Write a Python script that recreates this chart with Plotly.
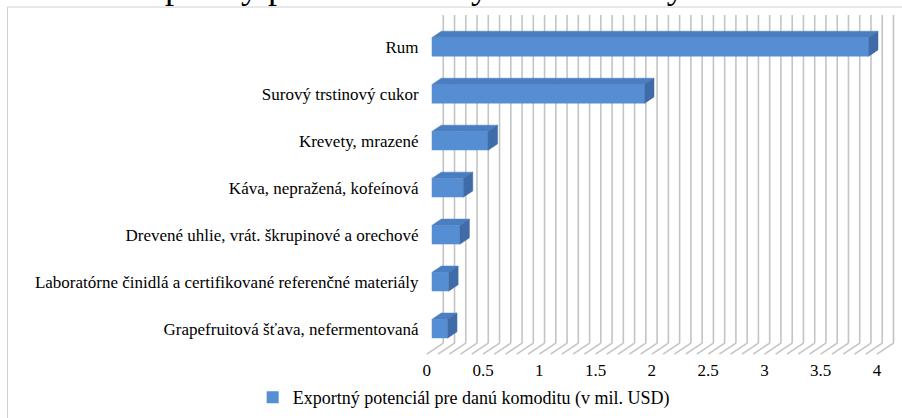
import plotly.graph_objects as go

categories = [
    "Grapefruitová šťava, nefermentovaná",
    "Laboratórne činidlá a certifikované referenčné materiály",
    "Drevené uhlie, vrát. škrupinové a orechové",
    "Káva, nepražená, kofeínová",
    "Krevety, mrazené",
    "Surový trstinový cukor",
    "Rum",
]
values = [0.14, 0.15, 0.25, 0.28, 0.50, 1.89, 3.88]
tick_vals = [0, 0.5, 1, 1.5, 2, 2.5, 3, 3.5, 4]
tick_text = ["0", "0.5", "1", "1.5", "2", "2.5", "3", "3.5", "4"]
grid_vals = [round(i * 0.1, 1) for i in range(41)]
series_name = "Exportný potenciál pre danú komoditu (v mil. USD)"
title_text = "Graf 3: Exportný potenciál Kuby na slovenský trh v roku 2018 (v mil. USD)"

FONT = "Liberation Serif, Times New Roman, serif"
FRONT = "#568ed3"
TOP = "#4a7ec2"
SIDE = "#3f6ca8"
GRID = "#c4c4c4"

# pixel layout (screen coordinates, body margin removed)
W, H = 902, 418
px_per_x = 112.5
px_per_y = 47.5
x_range = [-0.06, 4.16]
y_range = [-0.621, 6.789]
ml = 432 + x_range[0] * px_per_x
pw = (x_range[1] - x_range[0]) * px_per_x
mr = W - (ml + pw)
mt = 10
ph = (y_range[1] - y_range[0]) * px_per_y
mb = H - (mt + ph)


def px_to_paper_x(px):
    return (px - ml) / pw


def px_to_paper_y(py):
    return (H - mb - py) / ph


# 3D offsets in data units
bar_h = 0.4
bdx = 9.5 / px_per_x
bdy = 6.5 / px_per_y
wall_dx = 11.5 / px_per_x
floor_dx = -5 / px_per_x
wall_top = y_range[1] - 5 / px_per_y
wall_bot = y_range[0] + 15 / px_per_y
floor_front = y_range[0] + 4 / px_per_y

ypos = list(range(len(categories)))

shapes = []
for v in grid_vals:
    shapes.append(dict(type="line", xref="x", yref="y", x0=v + wall_dx, x1=v + wall_dx,
                       y0=wall_bot, y1=wall_top, line=dict(color=GRID, width=1.6),
                       layer="below"))
    shapes.append(dict(type="line", xref="x", yref="y", x0=v + floor_dx, x1=v + wall_dx,
                       y0=floor_front, y1=wall_bot, line=dict(color=GRID, width=1.6),
                       layer="below"))
shapes.append(dict(type="rect", xref="paper", yref="paper",
                   x0=px_to_paper_x(8), x1=px_to_paper_x(906),
                   y0=px_to_paper_y(425), y1=px_to_paper_y(7),
                   line=dict(color="#d0d0d0", width=1), fillcolor="rgba(0,0,0,0)",
                   layer="below"))

fig = go.Figure()

# front faces
fig.add_trace(go.Bar(x=values, y=ypos, orientation="h", width=bar_h, base=0,
                     marker=dict(color=FRONT, line=dict(width=0)),
                     name=series_name, showlegend=True))

# top and side faces
tx, ty, sx, sy = [], [], [], []
for k, v in zip(ypos, values):
    t = k + bar_h / 2
    b = k - bar_h / 2
    tx += [0, v, v + bdx, bdx, 0, None]
    ty += [t, t, t + bdy, t + bdy, t, None]
    sx += [v, v, v + bdx, v + bdx, v, None]
    sy += [b, t, t + bdy, b + bdy, b, None]
fig.add_trace(go.Scatter(x=tx, y=ty, mode="lines", fill="toself", fillcolor=TOP,
                         line=dict(color=TOP, width=0.5), hoverinfo="skip", showlegend=False))
fig.add_trace(go.Scatter(x=sx, y=sy, mode="lines", fill="toself", fillcolor=SIDE,
                         line=dict(color=SIDE, width=0.5), hoverinfo="skip", showlegend=False))

fig.update_layout(
    width=W, height=H,
    margin=dict(l=ml, r=mr, t=mt, b=mb, pad=0),
    paper_bgcolor="white", plot_bgcolor="white",
    font=dict(family=FONT, size=17, color="black"),
    showlegend=True,
    legend=dict(orientation="h", x=px_to_paper_x(253), xanchor="left",
                y=px_to_paper_y(402), yanchor="middle",
                font=dict(family=FONT, size=18, color="black"),
                itemwidth=30, bgcolor="rgba(0,0,0,0)"),
    xaxis=dict(range=x_range, tickvals=tick_vals, ticktext=tick_text, showgrid=False,
               zeroline=False, showline=False, ticks="", ticklabelshift=-5,
               tickfont=dict(family=FONT, size=17, color="black"), fixedrange=True),
    yaxis=dict(range=y_range, tickvals=ypos, ticktext=categories, showgrid=False,
               zeroline=False, showline=False, ticks="outside", ticklen=2,
               tickcolor="rgba(0,0,0,0)",
               tickfont=dict(family=FONT, size=17, color="black"), fixedrange=True),
    shapes=shapes,
    annotations=[dict(text=title_text, xref="paper", yref="paper",
                      x=px_to_paper_x(11), xanchor="left",
                      y=px_to_paper_y(8), yanchor="bottom",
                      showarrow=False, font=dict(family=FONT, size=36, color="black"))],
)

fig.write_html("out.html", config={"displayModeBar": False},
               post_script="document.body.style.margin='0';")
